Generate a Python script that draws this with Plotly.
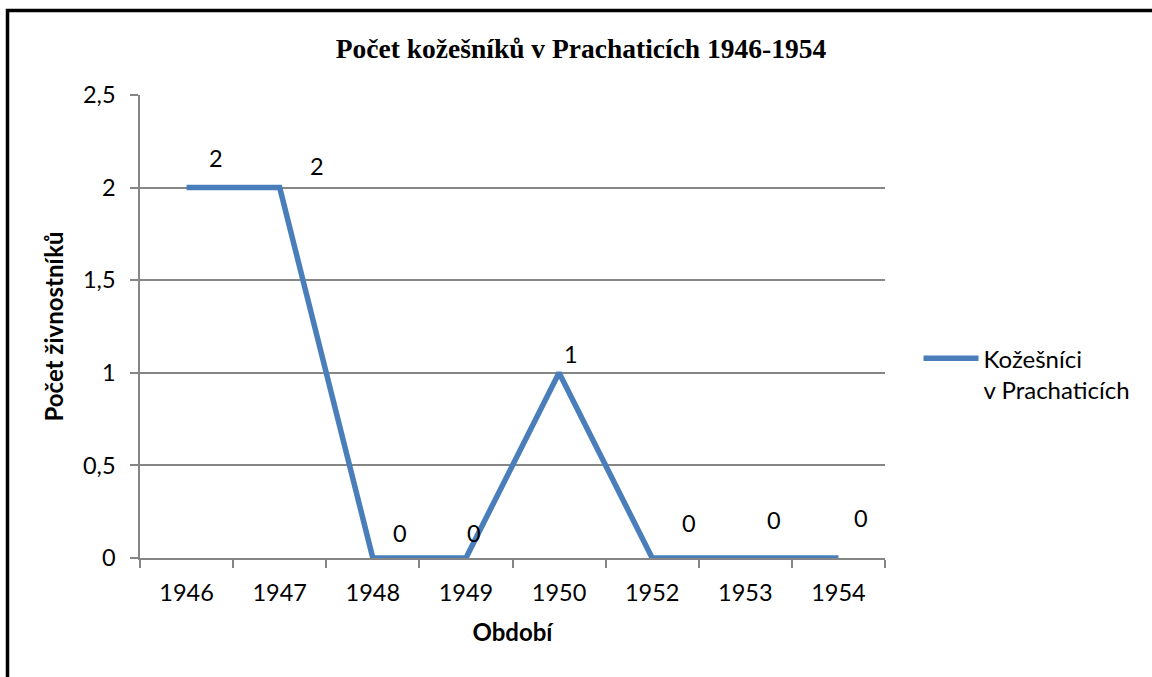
import plotly.graph_objects as go

# ---- data ----
years = ["1946", "1947", "1948", "1949", "1950", "1952", "1953", "1954"]
counts = [2, 2, 0, 0, 1, 0, 0, 0]
series_name = "Kožešníci<br>v Prachaticích"
title_text = "Počet kožešníků v Prachaticích 1946-1954"
x_title = "Období"
y_title = "Počet živnostníků"

# label offsets (px) of the data labels, as placed in the source chart
label_dx = [29, 37, 27, 8, 12, 37, 29, 23]
label_dy = [30, 22, 25, 25, 19, 35, 38, 40]

W, H = 1152, 677
ML, MR, MT, MB = 140, 267, 95, 119
PW, PH = W - ML - MR, H - MT - MB

FONT = "Lato, Calibri, Carlito, sans-serif"
BLUE = "#4A7EBB"
GRID = "#868686"
TICK_SIZE = 23.5

fig = go.Figure()
fig.add_trace(go.Scatter(
    x=years, y=counts, mode="lines", name=series_name,
    line=dict(color=BLUE, width=5.5),
))

for i, (y, dx, dy) in enumerate(zip(counts, label_dx, label_dy)):
    fig.add_annotation(x=i, y=y, xref="x", yref="y",
                       text=str(y).replace(".", ","), showarrow=False,
                       xshift=dx, yshift=dy,
                       font=dict(family=FONT, size=TICK_SIZE, color="black"))

# outer chart border
fig.add_shape(type="rect", xref="paper", yref="paper",
              x0=(7.5 - ML) / PW, x1=(1175 - ML) / PW,
              y0=-(700 - (MT + PH)) / PH, y1=1 + (MT - 10.5) / PH,
              line=dict(color="black", width=3.5), layer="above")

fig.update_layout(
    width=W, height=H,
    margin=dict(l=ML, r=MR, t=MT, b=MB, autoexpand=False),
    paper_bgcolor="white", plot_bgcolor="white",
    separators=", ",
    font=dict(family=FONT, size=TICK_SIZE, color="black"),
    title=dict(text="<b>" + title_text + "</b>", x=581 / W, xanchor="center",
               y=1 - 48 / H, yanchor="middle", yref="container",
               font=dict(family="Liberation Serif, Times New Roman, serif", size=27.5, color="black")),
    showlegend=True,
    legend=dict(x=1.045, xanchor="left", y=(MT + PH - 357) / PH + 0.045, yanchor="top",
                valign="top", itemwidth=55, bgcolor="rgba(0,0,0,0)",
                font=dict(family=FONT, size=24, color="black"), tracegroupgap=0),
)

fig.update_xaxes(
    type="category", range=[-0.5, 7.5], tickson="boundaries",
    ticks="outside", ticklen=8, tickcolor=GRID, tickwidth=1.5,
    showline=True, linecolor=GRID, linewidth=1.5, showgrid=False,
    tickfont=dict(family=FONT, size=TICK_SIZE), automargin=False, ticklabelstandoff=13,
    title=dict(text="<b>" + x_title + "</b>", font=dict(family=FONT, size=24), standoff=19),
)
fig.update_yaxes(
    range=[0, 2.5], dtick=0.5, tick0=0,
    ticks="outside", ticklen=8, tickcolor=GRID, tickwidth=1.5,
    showline=True, linecolor=GRID, linewidth=1.5,
    showgrid=True, gridcolor=GRID, gridwidth=1.5, zeroline=False,
    tickfont=dict(family=FONT, size=TICK_SIZE), automargin=False, ticklabelstandoff=10,
    title=dict(text="<b>" + y_title + "</b>", font=dict(family=FONT, size=24), standoff=13),
)

fig.write_html("out.html", config={"displayModeBar": False},
               post_script="document.body.style.margin='0px';document.body.style.overflow='hidden';")
